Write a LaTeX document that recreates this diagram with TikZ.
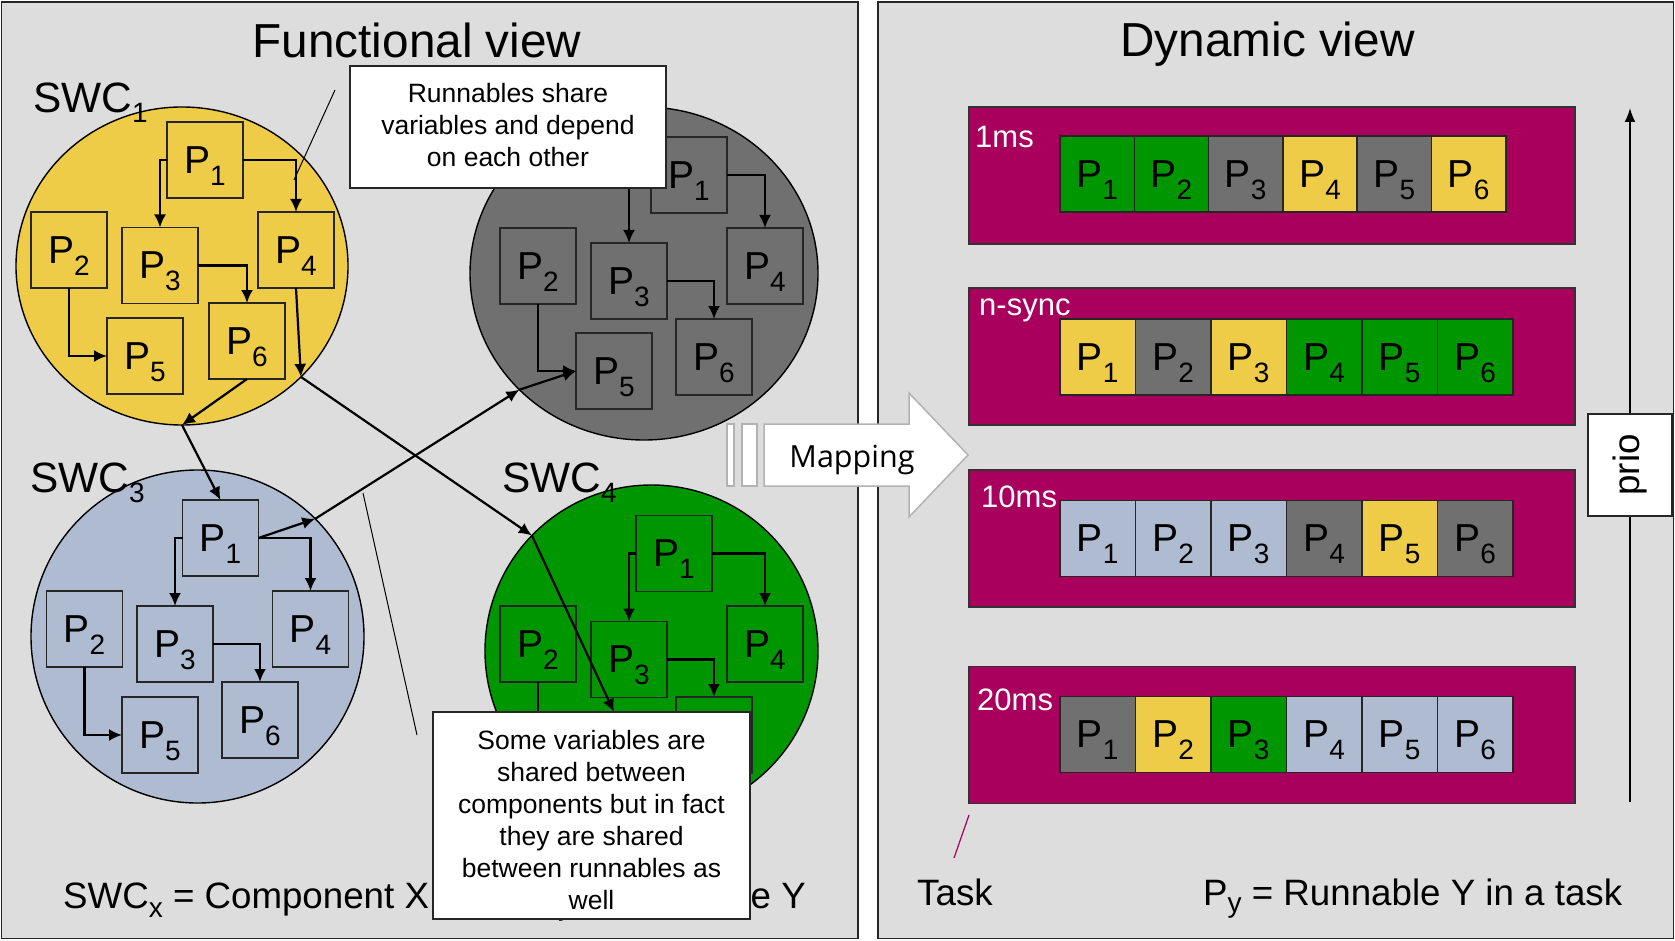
\documentclass[tikz,border=0pt]{standalone}
\usepackage{fontspec}
\setmainfont{Liberation Sans}
\newfontfamily\mapfont{Open Sans}
\usetikzlibrary{shapes.geometric,arrows.meta}

\definecolor{panelgray}{RGB}{221,221,221}
\definecolor{swcyel}{RGB}{238,204,72}
\definecolor{swcgry}{RGB}{112,112,112}
\definecolor{swcblu}{RGB}{175,187,208}
\definecolor{swcgrn}{RGB}{0,150,0}
\definecolor{taskmag}{RGB}{168,0,92}
\definecolor{mapedge}{RGB}{178,178,178}

\newcommand{\fs}[1]{\fontsize{#1}{#1}\selectfont}
\newcommand{\lowsub}[2]{\smash{\raisebox{-#1}{\fs{28}#2}}}
\newcommand{\rn}[1]{P\lowsub{12pt}{#1}}

\tikzset{
  panel/.style={fill=panelgray, draw=black!85, line width=1.6pt},
  swc/.style={ellipse, draw=black, line width=1.4pt, inner sep=0pt, outer sep=0pt},
  pbox/.style={draw=black!85, line width=1.6pt, minimum width=76pt, minimum height=76pt,
    inner sep=0pt, outer sep=0pt, font=\fs{39}},
  cell/.style={pbox, minimum height=76pt},
  arr/.style={-{Latex[length=13pt,width=12pt]}, line width=2.2pt, black},
  swclabel/.style={anchor=base west, inner sep=0pt, font=\fs{42.4}},
  note/.style={draw=black!85, fill=white, line width=1.5pt, inner sep=0pt},
  notetext/.style={align=center, inner sep=0pt, font=\fs{26.5}},
  tail/.style={line width=1pt, black},
  task/.style={fill=taskmag, draw=black!80, line width=1.5pt, minimum width=606pt,
    minimum height=137pt, inner sep=0pt},
  tasklabel/.style={anchor=base west, inner sep=0pt, text=white, font=\fs{31}},
  legend/.style={inner sep=0pt, font=\fs{36.7}},
  title/.style={anchor=base, inner sep=0pt, font=\fs{47.7}},
}

\begin{document}
\begin{tikzpicture}[x=1pt, y=-1pt]
\useasboundingbox (0,0) rectangle (1675,941);

% the two panels
\draw[panel] (1.5,2) rectangle (858,938.5);
\draw[panel] (878,2) rectangle (1673.5,938.5);

\node[title] (ftitle) at (417,58) {Functional view};
\node[title] (dtitle) at (1267.5,57) {Dynamic view};

% ---------- software components ----------
\node[swc, fill=swcyel, minimum width=332pt, minimum height=318pt] (s1) at (182,266) {};
\node[swc, fill=swcgry, minimum width=348pt, minimum height=333pt] (s2) at (644,273.5) {};
\node[swc, fill=swcblu, minimum width=333pt, minimum height=333pt] (s3) at (197.5,636.5) {};
\node[swc, fill=swcgrn, minimum width=333pt, minimum height=332pt] (s4) at (651.5,651) {};

\node[swclabel] (l1) at (33,113) {SWC\lowsub{10pt}{1}};
\node[swclabel] (l3) at (30,492) {SWC\lowsub{10pt}{3}};
\node[swclabel] (l4) at (502,492) {SWC\lowsub{10pt}{4}};

% runnables of SWC1
\node[pbox, fill=swcyel] (a1) at (205,160) {\rn1};
\node[pbox, fill=swcyel] (a2) at (69,250) {\rn2};
\node[pbox, fill=swcyel] (a3) at (160,265.5) {\rn3};
\node[pbox, fill=swcyel] (a4) at (296,250) {\rn4};
\node[pbox, fill=swcyel] (a5) at (145,356) {\rn5};
\node[pbox, fill=swcyel] (a6) at (247,341) {\rn6};

% runnables of SWC2
\node[pbox, fill=swcgry] (g1) at (689,175) {\rn1};
\node[pbox, fill=swcgry] (g2) at (538,266) {\rn2};
\node[pbox, fill=swcgry] (g3) at (629,281) {\rn3};
\node[pbox, fill=swcgry] (g4) at (765,266) {\rn4};
\node[pbox, fill=swcgry] (g5) at (614,371) {\rn5};
\node[pbox, fill=swcgry] (g6) at (714,357) {\rn6};

% runnables of SWC3
\node[pbox, fill=swcblu] (b1) at (220.5,538) {\rn1};
\node[pbox, fill=swcblu] (b2) at (84.5,629) {\rn2};
\node[pbox, fill=swcblu] (b3) at (175,644) {\rn3};
\node[pbox, fill=swcblu] (b4) at (310.5,629) {\rn4};
\node[pbox, fill=swcblu] (b5) at (160,735) {\rn5};
\node[pbox, fill=swcblu] (b6) at (260,720) {\rn6};

% runnables of SWC4 (the two lower ones lie under the note)
\node[pbox, fill=swcgrn] (d1) at (674,553.5) {\rn1};
\node[pbox, fill=swcgrn] (d2) at (538,644) {\rn2};
\node[pbox, fill=swcgrn] (d3) at (629,659.5) {\rn3};
\node[pbox, fill=swcgrn] (d4) at (765,644) {\rn4};
\node[pbox, fill=swcgrn] (d5) at (614,750) {};
\node[pbox, fill=swcgrn] (d6) at (714,735) {};

% dependencies inside each component
\foreach \c in {a,g,b,d}{
  \draw[arr] (\c1.west) -| (\c3.north);
  \draw[arr] (\c1.east) -| (\c4.north);
  \draw[arr] (\c3.east) -| (\c6.north);
  \draw[arr] (\c2.south) |- (\c5.west);
}

% dependencies across components
\draw[arr] (a4.south) -- (s1.-43);
\draw[arr] (s1.-43) -- (s4.136);
\draw[arr] (s4.136) -- (d5.north);
\draw[arr] (a6.south) -- (s1.south);
\draw[arr] (s1.south) -- (b1.north);
\draw[arr] (b1.east) -- (s3.45);
\draw[arr] (s3.45) -- (s2.223);
\draw[arr] (s2.223) -- (g5.west);

% legend of the functional view
\node[legend, anchor=base west] (legl) at (63,908) {SWC\lowsub{9pt}{x} = Component X};
\node[legend, anchor=base east] (legr) at (806,908) {P\lowsub{7pt}{y} = Runnable Y};

% notes
\node[note, minimum width=316pt, minimum height=122pt] (n1) at (508,127) {};
\node[notetext] (n1t) at (508,125)
  {Runnables share\\[5.5pt]variables and depend\\[5.5pt]on each other};
\coordinate (n1a) at (335,90);
\coordinate (n1b) at (294,180);
\draw[tail] (n1a) -- (n1b);

\node[note, minimum width=317pt, minimum height=207pt] (n2) at (591.5,815.5) {};
\node[notetext] (n2t) at (591.5,820)
  {Some variables are\\[5.5pt]shared between\\[5.5pt]components but in fact\\[5.5pt]they are shared\\[5.5pt]between runnables as\\[5.5pt]well};
\coordinate (n2a) at (363,493);
\coordinate (n2b) at (417,735);
\draw[tail] (n2a) -- (n2b);

% mapping arrow
\draw[fill=white, draw=mapedge, line width=1.5pt] (727,424) rectangle (734,486);
\draw[fill=white, draw=mapedge, line width=1.5pt] (742,424) rectangle (757,486);
\draw[fill=white, draw=mapedge, line width=1.5pt]
  (764,424) -- (909,424) -- (909,393) -- (968,455) -- (909,517) -- (909,486) -- (764,486) -- cycle;
\node[anchor=base, inner sep=0pt, font=\mapfont\fs{30.5}] (map) at (852,467) {Mapping};

% ---------- tasks ----------
\node[task] (t1) at (1272,175.5) {};
\node[task] (t2) at (1272,356.5) {};
\node[task] (t3) at (1272,538.5) {};
\node[task] (t4) at (1272,735) {};

\node[tasklabel] (tl1) at (975,148) {1ms};
\node[tasklabel] (tl2) at (979,315) {n-sync};
\node[tasklabel] (tl3) at (981,507) {10ms};
\node[tasklabel] (tl4) at (977,710) {20ms};

\foreach \col [count=\i] in {swcgrn,swcgrn,swcgry,swcyel,swcgry,swcyel}
  \node[cell, fill=\col, minimum width=74.3pt] (ra\i) at ({1060+74.3*(\i-0.5)},174) {\rn{\i}};
\foreach \col [count=\i] in {swcyel,swcgry,swcyel,swcgrn,swcgrn,swcgrn}
  \node[cell, fill=\col, minimum width=75.5pt] (rb\i) at ({1060+75.5*(\i-0.5)},357) {\rn{\i}};
\foreach \col [count=\i] in {swcblu,swcblu,swcblu,swcgry,swcyel,swcgry}
  \node[cell, fill=\col, minimum width=75.5pt] (rc\i) at ({1060+75.5*(\i-0.5)},538.5) {\rn{\i}};
\foreach \col [count=\i] in {swcgry,swcyel,swcgrn,swcblu,swcblu,swcblu}
  \node[cell, fill=\col, minimum width=75.5pt] (rd\i) at ({1060+75.5*(\i-0.5)},734.5) {\rn{\i}};

% priority axis
\coordinate (pbot) at (1630,802);
\coordinate (ptop) at (1630,108);
\draw[-{Latex[length=14pt,width=11pt]}, line width=2pt] (pbot) -- (ptop);
\node[draw=black!85, fill=white, line width=1.5pt, rotate=90, minimum width=102pt,
  minimum height=84pt, inner sep=0pt, font=\fs{36.7}] (prio) at (1630,465) {prio};

% legend of the dynamic view
\coordinate (tka) at (969,815);
\coordinate (tkb) at (954,858);
\draw[taskmag, line width=1.2pt] (tka) -- (tkb);
\node[legend, anchor=base west] (task) at (917,905) {Task};
\node[legend, anchor=base west] (legp) at (1203,905) {P\lowsub{7pt}{y} = Runnable Y in a task};
\end{tikzpicture}
\end{document}
